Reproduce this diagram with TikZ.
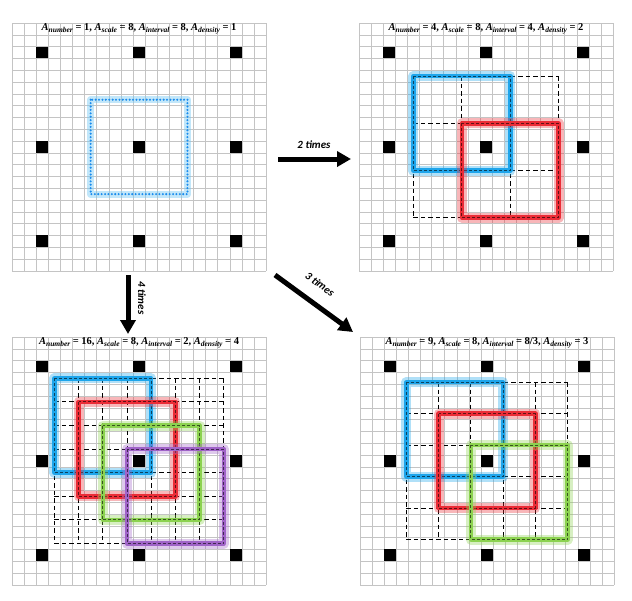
\documentclass[tikz,border=0pt]{standalone}
\usepackage{fontspec}
\usetikzlibrary{arrows.meta}
\newfontfamily\lblfont{Carlito}
\newfontfamily\ttlfont{Liberation Serif}
\definecolor{gridgray}{RGB}{196,196,196}
\definecolor{cblue}{RGB}{30,165,235}
\definecolor{cred}{RGB}{235,45,55}
\definecolor{cgreen}{RGB}{140,210,80}
\definecolor{cpurple}{RGB}{160,100,200}
\tikzset{
  gridline/.style={gridgray, line width=0.6pt},
  glow/.style={line width=10pt, draw opacity=0.35, line join=round},
  band/.style={line width=4.5pt, line join=round},
  dsh/.style={line width=0.9pt, dash pattern=on 3pt off 2pt},
  griddash/.style={black, line width=0.9pt, dash pattern=on 4.5pt off 3pt},
  bigarrow/.style={line width=5pt, -{Triangle[length=14pt,width=15pt]}},
  lbl/.style={font=\lblfont\bfseries\itshape\fontsize{11}{12}\selectfont, inner sep=1pt},
  ttl/.style={font=\ttlfont\bfseries\fontsize{10.5}{11}\selectfont, inner sep=0pt},
}
\newcommand\Asb[1]{\textit{A}\raisebox{-0.4ex}{\fontsize{7.5}{8}\selectfont\itshape #1}}
\newcommand\panelbase{%
  \foreach \gk in {0,...,21}{%
    \draw[gridline] (\gk,0) -- (\gk,21);
    \draw[gridline] (0,\gk) -- (21,\gk);
  }%
  \foreach \gi in {2,10,18}{%
    \foreach \gj in {2,10,18}{%
      \fill (\gi,\gj) rectangle ++(1,1);
    }%
  }%
}
\newcommand\csq[3]{%
  \draw[glow,#1] (#2,#3) rectangle ++(8,8);
  \draw[band,#1] (#2,#3) rectangle ++(8,8);
  \draw[dsh,#1!40!black] (#2,#3) rectangle ++(8,8);
}
\begin{document}
\begin{tikzpicture}
\useasboundingbox (0,0) rectangle (632pt,-600pt);
% Panel 1
\begin{scope}[shift={(12pt,-23pt)}, x=12.1pt, y=-11.8pt]
  \panelbase
  \node[ttl] (t1) at (10.5,0.5) {\Asb{number} = 1, \Asb{scale} = 8, \Asb{interval} = 8, \Asb{density} = 1};
  \draw[cblue!60, line width=7pt, draw opacity=0.45, line join=round] (6.5,6.5) rectangle (14.5,14.5);
  \draw[cblue!85!blue, line width=2.3pt, dash pattern=on 0pt off 3.4pt, line cap=round] (6.5,6.5) rectangle (14.5,14.5);
\end{scope}
% Panel 2
\begin{scope}[shift={(359pt,-23pt)}, x=12.1pt, y=-11.8pt]
  \panelbase
  \node[ttl] (t2) at (10.5,0.5) {\Asb{number} = 4, \Asb{scale} = 8, \Asb{interval} = 4, \Asb{density} = 2};
  \foreach \gk in {0,...,3}{%
    \draw[griddash] (4.5+4*\gk,4.5) -- (4.5+4*\gk,16.5);
    \draw[griddash] (4.5,4.5+4*\gk) -- (16.5,4.5+4*\gk);
  }
  \csq{cblue}{4.5}{4.5}
  \csq{cred}{8.5}{8.5}
\end{scope}
% Panel 3
\begin{scope}[shift={(12pt,-337pt)}, x=12.1pt, y=-11.8pt]
  \panelbase
  \node[ttl] (t3) at (10.5,0.5) {\Asb{number} = 16, \Asb{scale} = 8, \Asb{interval} = 2, \Asb{density} = 4};
  \foreach \gk in {0,...,7}{%
    \draw[griddash] (3.5+2*\gk,3.5) -- (3.5+2*\gk,17.5);
    \draw[griddash] (3.5,3.5+2*\gk) -- (17.5,3.5+2*\gk);
  }
  \csq{cblue}{3.5}{3.5}
  \csq{cred}{5.5}{5.5}
  \csq{cgreen}{7.5}{7.5}
  \csq{cpurple}{9.5}{9.5}
\end{scope}
% Panel 4
\begin{scope}[shift={(360pt,-337pt)}, x=12.1pt, y=-11.8pt]
  \panelbase
  \node[ttl] (t4) at (10.5,0.5) {\Asb{number} = 9, \Asb{scale} = 8, \Asb{interval} = 8/3, \Asb{density} = 3};
  \foreach \gk in {0,...,5}{%
    \draw[griddash] (3.8333+2.6667*\gk,3.8333) -- (3.8333+2.6667*\gk,17.1667);
    \draw[griddash] (3.8333,3.8333+2.6667*\gk) -- (17.1667,3.8333+2.6667*\gk);
  }
  \csq{cblue}{3.8333}{3.8333}
  \csq{cred}{6.5}{6.5}
  \csq{cgreen}{9.1667}{9.1667}
\end{scope}
% Arrows
\coordinate (a2s) at (278pt,-159pt);
\coordinate (a2e) at (351pt,-159pt);
\coordinate (a4s) at (128pt,-275pt);
\coordinate (a4e) at (128pt,-334pt);
\coordinate (a3s) at (275pt,-275pt);
\coordinate (a3e) at (353pt,-332pt);
\draw[bigarrow] (a2s) -- (a2e);
\draw[bigarrow] (a4s) -- (a4e);
\draw[bigarrow] (a3s) -- (a3e);
\node[lbl] (l2) at (314pt,-145pt) {2 times};
\node[lbl, rotate=-90] (l4) at (142pt,-298pt) {4 times};
\node[lbl, rotate=-36.5] (l3) at (320pt,-284pt) {3 times};
\end{tikzpicture}
\end{document}
